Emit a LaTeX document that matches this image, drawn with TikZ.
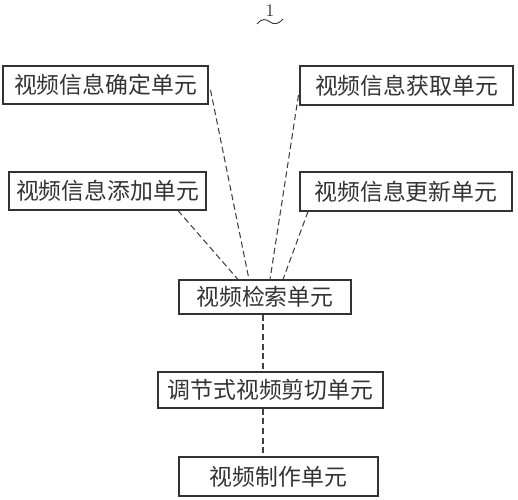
\documentclass[tikz,border=0pt]{standalone}
\usepackage{fontspec}
\newfontfamily\cjk{Noto Sans CJK SC}
\usetikzlibrary{calc}
\tikzset{
  unit/.style={draw=black!80, line width=0.6pt, inner sep=0pt, text=black!80,
    font=\cjk\fontsize{13}{15}\selectfont},
  link/.style={draw=black!75, line width=0.6pt, dash pattern=on 3.5pt off 2pt}
}
\begin{document}
\begin{tikzpicture}[x=0.02cm,y=-0.02cm]
\useasboundingbox (0,0) rectangle (518,500);
\node[font=\fontsize{10}{12}\selectfont, text=black!80] (nr) at (270,11) {1};
\draw[black!80, line width=0.5pt] (257,24) .. controls (262,18) and (266,19) .. (270,22) .. controls (274,25) and (279,24) .. (283,19);
\node[unit, minimum width=4.10cm, minimum height=0.76cm] (queding) at (105.5,85) {视频信息确定单元};
\node[unit, minimum width=4.26cm, minimum height=0.78cm] (huoqu) at (406.5,85.5) {视频信息获取单元};
\node[unit, minimum width=3.94cm, minimum height=0.76cm] (tianjia) at (107.5,191) {视频信息添加单元};
\node[unit, minimum width=4.24cm, minimum height=0.78cm] (gengxin) at (406,191.5) {视频信息更新单元};
\node[unit, minimum width=3.44cm, minimum height=0.68cm] (jiansuo) at (265,297) {视频检索单元};
\node[unit, minimum width=4.50cm, minimum height=0.72cm] (tiaojie) at (270.5,390) {调节式视频剪切单元};
\node[unit, minimum width=3.98cm, minimum height=0.78cm] (zhizuo) at (278.5,476.5) {视频制作单元};
\draw[link] ([xshift=1.41cm]tianjia.south) -- ([xshift=-0.54cm]jiansuo.north);
\draw[link] ([xshift=0.04cm,yshift=-0.1cm]queding.east) -- ([xshift=-0.32cm]jiansuo.north);
\draw[link] ([xshift=-0.02cm,yshift=-0.19cm]huoqu.west) -- ([xshift=0.1cm]jiansuo.north);
\draw[link] ([xshift=-1.96cm]gengxin.south) -- ([xshift=0.36cm]jiansuo.north);
\draw[link] ([xshift=-0.04cm]jiansuo.south) -- ([xshift=-0.04cm]jiansuo.south |- tiaojie.north);
\draw[link] ([xshift=-0.04cm]jiansuo.south |- tiaojie.south) -- ([xshift=-0.04cm]jiansuo.south |- zhizuo.north);
\end{tikzpicture}
\end{document}
